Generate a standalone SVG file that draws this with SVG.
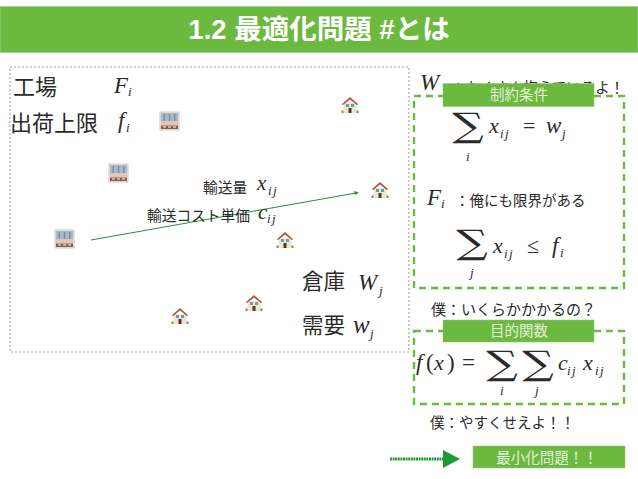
<svg xmlns="http://www.w3.org/2000/svg" width="638" height="479" viewBox="0 0 638 479">
<style>
.jp{font-family:"Noto Sans CJK JP","Liberation Sans",sans-serif;fill:#2a2a2a}
.m{font-family:"Liberation Serif",serif;font-style:italic;fill:#2a2a2a}
.r{font-family:"Liberation Serif",serif;fill:#2a2a2a}
.s{font-family:"DejaVu Serif",serif;fill:#2a2a2a;text-anchor:middle;font-size:34px}
.sub{font-size:13px;letter-spacing:1.500px}
.badge{fill:#6cb93f;stroke:#8fc774;stroke-width:.5}
.bt{font-family:"Noto Sans CJK JP","Liberation Sans",sans-serif;fill:#e4f2da;text-anchor:middle}
.box{fill:none;stroke:#6cb93f;stroke-width:2.400;stroke-dasharray:7 5}
</style>
<defs>
<g id="factory">
<rect x="0" y="0" width="19" height="18" fill="#f2eeea" stroke="#a9a5a0" stroke-width=".6"/>
<rect x="1" y="1" width="17" height="8" fill="#a9b9c8"/>
<rect x="3.500" y="2" width="1.500" height="9" fill="#7d8fa2"/><rect x="8.800" y="2" width="1.500" height="9" fill="#7d8fa2"/><rect x="14" y="2" width="1.500" height="9" fill="#7d8fa2"/>
<rect x="1" y="9" width="17" height="4.500" fill="#e3c6b8"/>
<rect x="1" y="13.500" width="17" height="3.500" fill="#8f5a46"/>
<rect x="3" y="14.300" width="3" height="1.300" fill="#eadfce"/><rect x="8" y="14.300" width="3" height="1.300" fill="#eadfce"/><rect x="13" y="14.300" width="3" height="1.300" fill="#eadfce"/>
</g>
<g id="house">
<rect x="-8.500" y="13.500" width="17" height="2.500" fill="#6a9f48"/>
<rect x="-6.500" y="6" width="13" height="10" fill="#efe6cf"/>
<path d="M-8.500 7.500 0 0 8.500 7.500 6.500 7.800 0 2.500-6.500 7.800Z" fill="#b6533d"/>
<rect x="-4" y="7" width="3" height="3" fill="#5f9fbd"/><rect x="1" y="7" width="3" height="3" fill="#5f9fbd"/>
<rect x="-1.500" y="11" width="3" height="5" fill="#5a3524"/>
</g>
</defs>
<rect width="638" height="479" fill="#fff"/>
<g id="header"><rect x="0" y="6.500" width="638" height="46" fill="#6cb93f" stroke="#a9cf95" stroke-width=".8"/>
<text x="319" y="39" font-size="27.500" font-weight="700" text-anchor="middle" style="font-family:'Liberation Sans','Noto Sans CJK JP',sans-serif" fill="#fff">1.2 最適化問題 #とは</text></g>
<g id="connectors">
<rect x="10" y="67" width="399" height="285" fill="none" stroke="#aaa" stroke-width="1.200" stroke-dasharray="2 2"/>
<line x1="91" y1="240" x2="356" y2="193" stroke="#2e8b3a" stroke-width="1"/>
<path d="M359 192.500 354 191 355 195Z" fill="#2e8b3a"/>
<line x1="390" y1="459" x2="444" y2="459" stroke="#2a9a3a" stroke-width="3" stroke-dasharray="2 .6"/>
<path d="M443 450 460 459 443 468Z" fill="#1f9a38"/>
</g>
<g id="factory-legend">
<text class="jp" x="13" y="95" font-size="22">工場</text>
<text class="m" x="114" y="93" font-size="23">F</text><text class="m sub" x="128" y="96">i</text>
<text class="jp" x="10" y="131" font-size="22">出荷上限</text>
<text class="m" x="118" y="128" font-size="23">f</text><text class="m sub" x="126" y="132">i</text>
</g>
<g id="factories">
<use href="#factory" x="160" y="112"/>
<use href="#factory" x="109" y="164"/>
<use href="#factory" x="55" y="230"/>
</g>
<g id="houses">
<use href="#house" x="350" y="97"/>
<use href="#house" x="380" y="182"/>
<use href="#house" x="285" y="232"/>
<use href="#house" x="254" y="295"/>
<use href="#house" x="180" y="308"/>
</g>
<g id="flow-labels">
<text class="jp" x="203" y="193" font-size="14.700">輸送量</text>
<text class="m" x="257" y="190" font-size="21">x</text><text class="m sub" x="268" y="195">ij</text>
<text class="jp" x="147" y="221" font-size="14.700">輸送コスト単価</text>
<text class="m" x="258" y="219" font-size="21">c</text><text class="m sub" x="267" y="223">ij</text>
</g>
<g id="warehouse-legend">
<text class="jp" x="302" y="289" font-size="21.500">倉庫</text>
<text class="m" x="358" y="290" font-size="23">W</text><text class="m sub" x="379" y="295">j</text>
<text class="jp" x="302" y="333" font-size="21.500">需要</text>
<text class="m" x="353" y="333" font-size="25">w</text><text class="m sub" x="370" y="338">j</text>
</g>
<g id="constraints">
<text class="m" x="420" y="90" font-size="23">W</text>
<text class="jp" x="451" y="93" font-size="14.500">：たくさん抱えているよ！</text>
<rect class="box" x="414" y="96" width="210" height="192"/>
<rect class="badge" x="443" y="83.500" width="151" height="23"/>
<text class="bt" x="519" y="100" font-size="14.500">制約条件</text>
<text class="s" transform="translate(468 137) scale(1.3 1)">∑</text>
<text class="m sub" x="466" y="161">i</text>
<text class="m" x="489" y="133" font-size="22">x</text><text class="m sub" x="500" y="138">ij</text>
<text class="r" x="523" y="133" font-size="22">=</text>
<text class="m" x="546" y="133" font-size="23">w</text><text class="m sub" x="562" y="138">j</text>
<text class="m" x="427" y="205" font-size="23">F</text><text class="m sub" x="441" y="208">i</text>
<text class="jp" x="455" y="206" font-size="14.500">：俺にも限界がある</text>
<text class="s" transform="translate(472 254) scale(1.3 1)">∑</text>
<text class="m sub" x="470" y="277">j</text>
<text class="m" x="493" y="253" font-size="22">x</text><text class="m sub" x="504" y="258">ij</text>
<text class="r" x="527" y="253" font-size="22">≤</text>
<text class="m" x="552" y="253" font-size="23">f</text><text class="m sub" x="560" y="257">i</text>
</g>
<g id="objective">
<text class="jp" x="431" y="315" font-size="15">僕：いくらかかかるの？</text>
<rect class="box" x="414" y="331" width="210" height="73"/>
<rect class="badge" x="443" y="320" width="151" height="22"/>
<text class="bt" x="519" y="336" font-size="14.500">目的関数</text>
<text class="m" x="416" y="370" font-size="23">f</text><text class="r" x="426" y="370" font-size="23">(</text><text class="m" x="434" y="370" font-size="22">x</text><text class="r" x="447" y="370" font-size="23">)</text><text class="r" x="462" y="370" font-size="23">=</text>
<text class="s" transform="translate(502 375) scale(1.3 1)">∑</text><text class="m sub" x="500" y="395">i</text>
<text class="s" transform="translate(538 375) scale(1.3 1)">∑</text><text class="m sub" x="535" y="395">j</text>
<text class="m" x="558" y="370" font-size="22">c</text><text class="m sub" x="567" y="375">ij</text>
<text class="m" x="583" y="370" font-size="22">x</text><text class="m sub" x="595" y="375">ij</text>
<text class="jp" x="430" y="428" font-size="14.500">僕：やすくせえよ！！</text>
<rect class="badge" x="473" y="446" width="152" height="22"/>
<text class="bt" x="547" y="463" font-size="14.500">最小化問題！！</text>
</g>
</svg>
